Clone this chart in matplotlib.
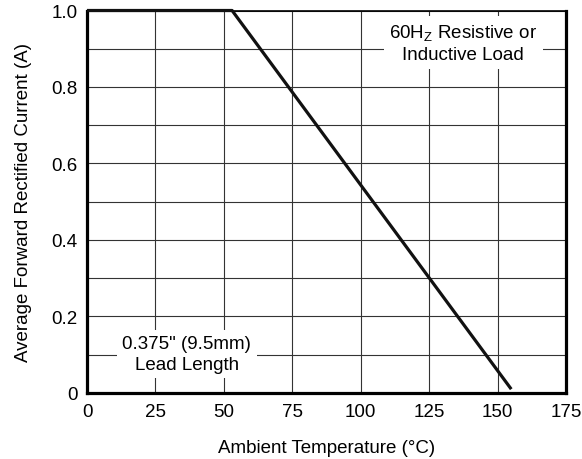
import numpy as np
import matplotlib
matplotlib.use('Agg')
import matplotlib.pyplot as plt

plt.rcParams.update({
    'font.family': ['Liberation Sans', 'DejaVu Sans'],
    'font.size': 13.5,
    'mathtext.fontset': 'custom',
    'mathtext.rm': 'Liberation Sans',
})

# derating curve
temp = [0, 53, 155]
current = [1.0, 1.0, 0.01]

xticks = [0, 25, 50, 75, 100, 125, 150, 175]
yticks = [0, 0.1, 0.2, 0.3, 0.4, 0.5, 0.6, 0.7, 0.8, 0.9, 1.0]
ytick_labels = ['0', '', '0.2', '', '0.4', '', '0.6', '', '0.8', '', '1.0']

fig = plt.figure(figsize=(5.82, 4.6), dpi=100)
ax = fig.add_axes([0.1495, 0.1435, 0.823, 0.8315])

ax.set_xlim(0, 175)
ax.set_ylim(0, 1.0)
ax.set_xticks(xticks)
ax.set_yticks(yticks)
ax.set_yticklabels(ytick_labels)
ax.tick_params(length=0, pad=7)
ax.grid(True, color='#333333', lw=0.8)
ax.set_axisbelow(True)

ax.plot(temp, current, color='#111111', lw=2.3, solid_capstyle='butt', zorder=3, clip_on=False)

for side in ['left', 'bottom', 'right']:
    ax.spines[side].set_linewidth(2.3)
ax.spines['top'].set_linewidth(1.2)

box = dict(facecolor='white', edgecolor='none', boxstyle='square,pad=0.3')
ax.text(137.5, 0.915, '60H$_\\mathregular{Z}$ Resistive or\nInductive Load',
        ha='center', va='center', linespacing=1.25, bbox=box, zorder=4)
ax.text(36.5, 0.102, '0.375" (9.5mm)\nLead Length',
        ha='center', va='center', linespacing=1.25, bbox=box, zorder=4)

ax.set_xlabel('Ambient Temperature (°C)', labelpad=14)
ax.set_ylabel('Average Forward Rectified Current (A)', labelpad=14)

fig.savefig('out.png', dpi=100)
